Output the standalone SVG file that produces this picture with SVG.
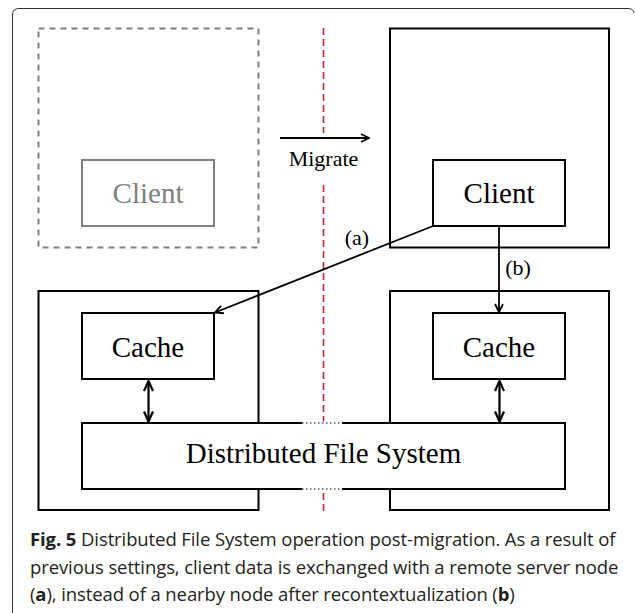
<svg xmlns="http://www.w3.org/2000/svg" width="635" height="613" viewBox="0 0 635 613">
  <defs>
    <style>
      .box { fill: #ffffff; stroke: #000000; stroke-width: 2; }
      .ghost { fill: none; stroke: #808080; stroke-width: 2; }
      .ghost-dash { fill: none; stroke: #808080; stroke-width: 2; stroke-dasharray: 6 5; }
      .lbl { font-family: "Liberation Serif", "Times New Roman", serif; fill: #000000; text-anchor: middle; }
      .big { font-size: 29px; }
      .small { font-size: 22px; }
      .conn { fill: none; stroke: #000000; stroke-width: 1.8; }
      .dbl { fill: none; stroke: #000000; stroke-width: 2.2; }
      .divider { fill: none; stroke: #b8282e; stroke-width: 1.6; stroke-dasharray: 7 4; }
      .cap { font-family: "Open Sans", "Noto Sans", sans-serif; font-size: 18.5px; fill: #231f20; letter-spacing: -0.1px; }
      .capb { font-weight: bold; }
    </style>
    <marker id="head" viewBox="0 0 10 10" refX="9" refY="5" markerWidth="10" markerHeight="10" markerUnits="userSpaceOnUse" orient="auto-start-reverse">
      <path d="M1,1 L9,5 L1,9" fill="none" stroke="#000000" stroke-width="1.8"/>
    </marker>
    <marker id="head2" viewBox="0 0 12 12" refX="11" refY="6" markerWidth="12" markerHeight="12" markerUnits="userSpaceOnUse" orient="auto-start-reverse">
      <path d="M1,1.5 L11,6 L1,10.5" fill="none" stroke="#000000" stroke-width="2.2"/>
    </marker>
  </defs>

  <!-- figure frame -->
  <path d="M12.5,613 V15 Q12.5,8.5 19,8.5 H628 Q633.5,8.5 634,13" fill="none" stroke="#333333" stroke-width="1"/>

  <!-- migration divider -->
  <g id="divider">
    <line class="divider" x1="323.5" y1="28" x2="323.5" y2="133"/>
    <line class="divider" x1="323.5" y1="185" x2="323.5" y2="511"/>
  </g>

  <!-- previous host (ghosted) -->
  <g id="old-host">
    <rect class="ghost-dash" x="38.5" y="28.5" width="220" height="219"/>
  </g>
  <g id="old-client">
    <rect class="ghost" x="82" y="160" width="132" height="66"/>
    <text class="lbl big" x="148" y="203" style="fill:#808080">Client</text>
  </g>

  <!-- new host -->
  <g id="new-host">
    <rect class="box" x="390" y="28.5" width="219" height="219"/>
  </g>
  <g id="new-client">
    <rect class="box" x="433" y="160" width="132" height="66"/>
    <text class="lbl big" x="499" y="203">Client</text>
  </g>

  <!-- storage nodes -->
  <g id="node-left">
    <rect class="box" x="38.5" y="291" width="220" height="219"/>
  </g>
  <g id="node-right">
    <rect class="box" x="390" y="291" width="219" height="219"/>
  </g>
  <g id="cache-left">
    <rect class="box" x="82" y="313" width="132" height="66"/>
    <text class="lbl big" x="148" y="357">Cache</text>
  </g>
  <g id="cache-right">
    <rect class="box" x="433" y="313" width="132" height="66"/>
    <text class="lbl big" x="499" y="357">Cache</text>
  </g>
  <g id="dfs">
    <rect class="box" x="82" y="423" width="483" height="66"/>
    <!-- boundary crossing drawn dotted -->
    <line x1="302" y1="423" x2="342" y2="423" stroke="#ffffff" stroke-width="3"/>
    <line x1="302" y1="489" x2="342" y2="489" stroke="#ffffff" stroke-width="3"/>
    <line x1="302" y1="423" x2="342" y2="423" stroke="#555555" stroke-width="1.5" stroke-dasharray="1.5 2.5"/>
    <line x1="302" y1="489" x2="342" y2="489" stroke="#555555" stroke-width="1.5" stroke-dasharray="1.5 2.5"/>
    <text class="lbl big" x="323.5" y="463">Distributed File System</text>
  </g>

  <!-- connectors -->
  <g id="connectors">
    <line class="conn" x1="280" y1="138" x2="369" y2="138" marker-end="url(#head)"/>
    <text class="lbl small" x="323.5" y="166">Migrate</text>

    <line class="conn" x1="433" y1="226" x2="215" y2="312.5" marker-end="url(#head)"/>
    <text class="lbl small" x="357" y="245">(a)</text>

    <line class="conn" x1="499" y1="226" x2="499" y2="312" marker-end="url(#head)"/>
    <text class="lbl small" x="518" y="275">(b)</text>

    <line class="dbl" x1="148.5" y1="381" x2="148.5" y2="421.5" marker-start="url(#head2)" marker-end="url(#head2)"/>
    <line class="dbl" x1="499.5" y1="381" x2="499.5" y2="421.5" marker-start="url(#head2)" marker-end="url(#head2)"/>
  </g>

  <!-- caption -->
  <g id="caption">
    <text class="cap" x="30" y="546"><tspan class="capb">Fig. 5</tspan> Distributed File System operation post-migration. As a result of</text>
    <text class="cap" x="30" y="574">previous settings, client data is exchanged with a remote server node</text>
    <text class="cap" x="30" y="601">(<tspan class="capb">a</tspan>), instead of a nearby node after recontextualization (<tspan class="capb">b</tspan>)</text>
  </g>
</svg>
